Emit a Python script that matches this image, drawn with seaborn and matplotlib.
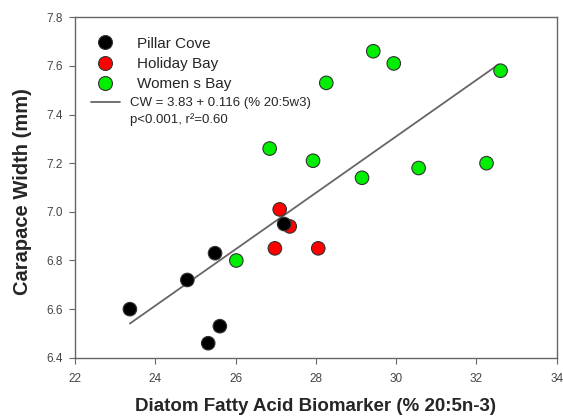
import matplotlib
matplotlib.use("Agg")
import matplotlib.pyplot as plt
import seaborn as sns
import pandas as pd
import numpy as np
from matplotlib.lines import Line2D

sites = ["Pillar Cove", "Holiday Bay", "Women s Bay"]
colors = ["#000000", "#ff0000", "#00ee00"]

pillar_x = [23.37, 24.80, 25.49, 25.61, 25.32, 27.21]
pillar_y = [6.60, 6.72, 6.83, 6.53, 6.46, 6.95]
holiday_x = [27.10, 27.35, 26.98, 28.06]
holiday_y = [7.01, 6.94, 6.85, 6.85]
womens_x = [26.02, 29.43, 29.94, 28.26, 32.60, 26.85, 27.93, 29.15, 30.56, 32.25]
womens_y = [6.80, 7.66, 7.61, 7.53, 7.58, 7.26, 7.21, 7.14, 7.18, 7.20]

intercept = 3.83
slope = 0.116
fit_range = [23.37, 32.55]
eq_line1 = "CW = 3.83 + 0.116 (% 20:5w3)"
eq_line2 = "p<0.001, r\u00b2=0.60"

df = pd.concat([
    pd.DataFrame({"x": holiday_x, "y": holiday_y, "site": sites[1]}),
    pd.DataFrame({"x": pillar_x, "y": pillar_y, "site": sites[0]}),
    pd.DataFrame({"x": womens_x, "y": womens_y, "site": sites[2]}),
])

sns.set_style("ticks")
plt.rcParams["font.family"] = ["Liberation Sans", "DejaVu Sans"]

fig = plt.figure(figsize=(5.63, 4.19), dpi=100)
ax = fig.add_axes([0.133, 0.146, 0.856, 0.813])

fx = np.array(fit_range)
line, = ax.plot(fx, intercept + slope * fx, color="#666666", lw=1.3, zorder=1)

sns.scatterplot(data=df, x="x", y="y", hue="site", hue_order=sites,
                palette=dict(zip(sites, colors)), s=95, edgecolor="#333333",
                linewidth=0.8, ax=ax, legend=False, zorder=3)

ax.set_xlim(22, 34)
ax.set_ylim(6.4, 7.8)
ax.set_xticks(np.arange(22, 35, 2))
ax.set_yticks(np.arange(6.4, 7.81, 0.2))
ax.set_yticklabels([f"{v:.1f}" for v in np.arange(6.4, 7.81, 0.2)])
ax.tick_params(labelsize=8.5, labelcolor="#444444", color="#666666", length=4, width=0.8)
ax.tick_params(axis="x", pad=7)
ax.tick_params(axis="y", pad=5)
for sp in ax.spines.values():
    sp.set_color("#666666")
    sp.set_linewidth(1.0)

ax.set_xlabel("Diatom Fatty Acid Biomarker (% 20:5n-3)", fontsize=13.5, fontweight="bold", labelpad=9)
ax.set_ylabel("Carapace Width (mm)", fontsize=14.5, fontweight="bold")
ax.yaxis.set_label_coords(-0.088, 0.487)

handles = [Line2D([], [], marker="o", ls="none", markersize=10, markerfacecolor=c,
                  markeredgecolor="#333333", markeredgewidth=0.8) for c in colors]
leg1 = ax.legend(handles, sites, loc="upper left", frameon=False,
                 fontsize=11, handlelength=1.0, handletextpad=1.6, labelspacing=0.42,
                 borderaxespad=0.0, borderpad=0.0,
                 bbox_to_anchor=(22.5 / 482, 1 - 19.5 / 341))
ax.add_artist(leg1)
leg2 = ax.legend([Line2D([], [], color="#666666", lw=1.3), Line2D([], [], alpha=0)],
                 [eq_line1, eq_line2], loc="upper left",
                 frameon=False, fontsize=9.5, handlelength=2.2, handletextpad=0.75,
                 labelspacing=0.3, borderaxespad=0.0, borderpad=0.0,
                 bbox_to_anchor=(16 / 482, 1 - 80 / 341))

fig.savefig("out.png", dpi=100)
